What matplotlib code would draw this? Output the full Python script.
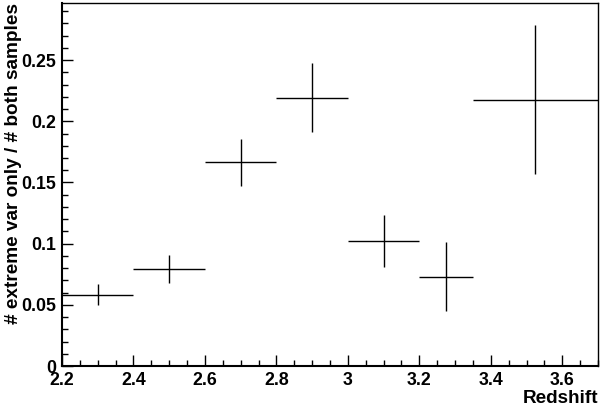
import matplotlib
matplotlib.use("Agg")
import matplotlib.pyplot as plt
from matplotlib.ticker import MultipleLocator, FuncFormatter

# redshift bins (low edge, high edge) and ratio with error
bin_lo = [2.2, 2.4, 2.6, 2.8, 3.0, 3.2, 3.35]
bin_hi = [2.4, 2.6, 2.8, 3.0, 3.2, 3.35, 3.7]
ratio = [0.0584, 0.0794, 0.1665, 0.2194, 0.1021, 0.0730, 0.2177]
ratio_err = [0.0087, 0.0112, 0.0194, 0.0285, 0.0212, 0.0283, 0.0606]

plt.rcParams["font.family"] = ["Liberation Sans", "DejaVu Sans"]
plt.rcParams["font.weight"] = "bold"

fig = plt.figure(figsize=(6.0, 4.09), dpi=100)
ax = fig.add_axes([0.1033, 0.1051, 0.8934, 0.8876])

centers = [(lo + hi) / 2 for lo, hi in zip(bin_lo, bin_hi)]
half_w = [(hi - lo) / 2 for lo, hi in zip(bin_lo, bin_hi)]
ax.errorbar(centers, ratio, xerr=half_w, yerr=ratio_err, fmt="none",
            ecolor="black", elinewidth=1.0, capsize=0)

ax.set_xlim(2.2, 3.7)
ax.set_ylim(0, 0.2967)

ax.xaxis.set_major_locator(MultipleLocator(0.2))
ax.xaxis.set_minor_locator(MultipleLocator(0.05))
ax.yaxis.set_major_locator(MultipleLocator(0.05))
ax.yaxis.set_minor_locator(MultipleLocator(0.01))


def trim(v, pos):
    s = f"{v:.2f}".rstrip("0").rstrip(".")
    return s


ax.xaxis.set_major_formatter(FuncFormatter(trim))
ax.yaxis.set_major_formatter(FuncFormatter(trim))

ax.tick_params(which="both", direction="in", top=False, right=False,
               labelsize=12.8, width=1.0, color="black")
ax.tick_params(which="major", length=8)
ax.tick_params(which="minor", length=4)
ax.tick_params(axis="x", which="major", pad=4.5)
ax.tick_params(axis="y", which="major", pad=4)
for lab in ax.get_xticklabels() + ax.get_yticklabels():
    lab.set_fontweight("bold")

for sp in ax.spines.values():
    sp.set_linewidth(1.0)
ax.spines["left"].set_linewidth(1.5)
ax.spines["bottom"].set_linewidth(1.5)

fig.text(0.9967, 0.004, "Redshift", ha="right", va="bottom",
         fontsize=13.6, fontweight="bold")
fig.text(0.008, 0.9927, "# extreme var only / # both samples", ha="left",
         va="top", rotation=90, fontsize=13.7, fontweight="bold")

fig.savefig("out.png", dpi=100)
